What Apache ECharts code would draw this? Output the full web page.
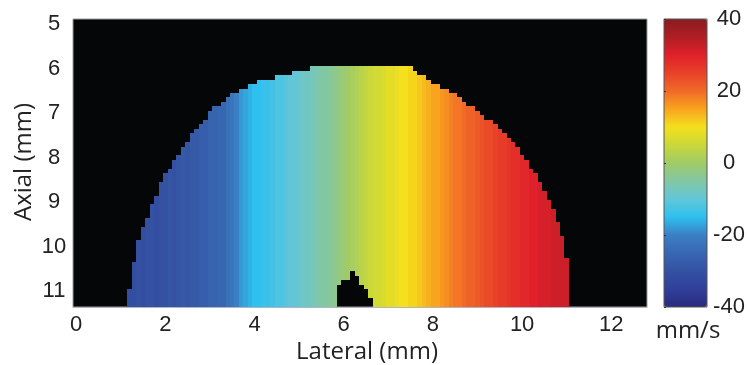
<!DOCTYPE html>
<html><head><meta charset="utf-8">
<script src="https://cdn.jsdelivr.net/npm/echarts@6/dist/echarts.min.js"></script>
<style>html,body{margin:0;padding:0;background:#fff}#c{width:750px;height:365px}</style>
</head><body><div id="c"></div>
<script>
// ---- tick labels ----
const lateralTicks = [0, 2, 4, 6, 8, 10, 12];
const axialTicks = [5, 6, 7, 8, 9, 10, 11];
const colorbarTicks = [-40, -20, 0, 20, 40];

// ---- velocity (mm/s) per lateral column, columns at 1.1 ... 11.1 mm, 0.1 mm apart ----
const lateralStart = 1.1;
const cellSize = 0.1;
const velocityProfile = [
  -31, -31, -31, -30, -31, -30, -30, -31, -30, -30,
  -29, -30, -29, -28, -29, -28, -28, -27, -27, -26,
  -26, -25, -25, -23, -22, -20, -18, -17, -16, -15,
  -15, -14, -14, -13, -12, -12, -11, -10, -10, -9,
  -8, -8, -7, -6, -5, -5, -4, -3, -2, -1,
  0, 1, 2, 3, 4, 5, 6, 6, 7, 8,
  8, 9, 10, 10, 11, 11, 12, 13, 14, 15,
  15, 16, 17, 18, 19, 19, 20, 21, 21, 22,
  23, 24, 24, 25, 26, 26, 27, 28, 28, 29,
  29, 30, 30, 31, 31, 31, 32, 32, 32, 32,
  32
];

// ---- axial rows (mm) and the lateral extent of the imaged region in each row ----
const axialRows = [
  6.0, 6.1, 6.2, 6.3, 6.4, 6.5, 6.6, 6.7, 6.8, 6.9,
  7.0, 7.1, 7.2, 7.3, 7.4, 7.5, 7.6, 7.7, 7.8, 7.9,
  8.0, 8.1, 8.2, 8.3, 8.4, 8.5, 8.6, 8.7, 8.8, 8.9,
  9.0, 9.1, 9.2, 9.3, 9.4, 9.5, 9.6, 9.7, 9.8, 9.9,
  10.0, 10.1, 10.2, 10.3, 10.4, 10.5, 10.6, 10.7, 10.8, 10.9,
  11.0, 11.1, 11.2, 11.3
];
const rowLeft = [
  5.3, 4.85, 4.45, 4.1, 3.85, 3.65, 3.5, 3.35, 3.22, 3.1,
  3.0, 2.92, 2.84, 2.76, 2.68, 2.6, 2.53, 2.46, 2.39, 2.32,
  2.25, 2.18, 2.11, 2.05, 1.99, 1.94, 1.9, 1.85, 1.81, 1.77,
  1.73, 1.69, 1.65, 1.61, 1.57, 1.53, 1.49, 1.46, 1.43, 1.4,
  1.38, 1.36, 1.34, 1.32, 1.3, 1.28, 1.26, 1.24, 1.22, 1.21,
  1.2, 1.19, 1.18, 1.17
];
const rowRight = [
  7.5, 7.65, 7.8, 7.98, 8.16, 8.35, 8.5, 8.63, 8.75, 8.9,
  9.03, 9.17, 9.3, 9.42, 9.52, 9.62, 9.72, 9.82, 9.9, 9.98,
  10.05, 10.12, 10.19, 10.26, 10.32, 10.38, 10.43, 10.48, 10.53, 10.57,
  10.62, 10.66, 10.7, 10.74, 10.78, 10.82, 10.85, 10.88, 10.9, 10.93,
  10.95, 10.97, 10.99, 11.0, 11.01, 11.02, 11.03, 11.04, 11.05, 11.06,
  11.07, 11.08, 11.08, 11.08
];
// ---- the small empty notch at the bottom ----
const holeRows  = [10.6, 10.7, 10.8, 10.9, 11.0, 11.1, 11.2, 11.3];
const holeLeft  = [6.15, 6.15, 6.0, 5.87, 5.87, 5.87, 5.87, 5.87];
const holeRight = [6.25, 6.32, 6.37, 6.42, 6.5, 6.55, 6.6, 6.66];

// ---- colour scale, -40 ... 40 mm/s ----
const colormap = [
  '#2a2a7e', '#30409a', '#3451a2', '#3867b2', '#3b7fc4', '#2ec0ef', '#62c6d8', '#82c7a4',
  '#a0cb66', '#cad83a', '#f4e01c', '#f8a41e', '#f06a28', '#e84228', '#e0202a', '#ae1e24', '#8a1c20'
];

const cells = [];
for (let r = 0; r < axialRows.length; r++) {
  const y = axialRows[r];
  const h = holeRows.indexOf(y);
  for (let c = 0; c < velocityProfile.length; c++) {
    const x = +(lateralStart + c * cellSize).toFixed(1);
    if (x < rowLeft[r] - 1e-6 || x > rowRight[r] + 1e-6) continue;
    if (h >= 0 && x >= holeLeft[h] - 1e-6 && x <= holeRight[h] + 1e-6) continue;
    cells.push([x, y, velocityProfile[c]]);
  }
}

const tickFont = 'Liberation Sans, Arial, sans-serif';
const titleFont = '"Open Sans", sans-serif';
const chart = echarts.init(document.getElementById('c'), null, {renderer: 'canvas'});
chart.setOption({
  animation: false,
  backgroundColor: '#ffffff',
  grid: [
    {left: 73, top: 19, width: 574, height: 288, show: true, backgroundColor: '#050608', borderColor: '#9a9a9a', borderWidth: 1},
    {left: 664, top: 19, width: 43, height: 288, show: true, backgroundColor: 'transparent', borderColor: '#555', borderWidth: 1, z: 10}
  ],
  xAxis: [
    {type: 'value', gridIndex: 0, min: -0.07, max: 12.8, z: 10,
     axisLine: {show: true, lineStyle: {color: '#b0b4c4', width: 1}},
     axisTick: {show: false}, splitLine: {show: false},
     axisLabel: {customValues: lateralTicks, fontSize: 22, fontFamily: tickFont, color: '#222', margin: 7}},
    {type: 'value', gridIndex: 1, min: 0, max: 1, show: false}
  ],
  yAxis: [
    {type: 'value', gridIndex: 0, inverse: true, min: 4.89, max: 11.35,
     axisLine: {show: false}, axisTick: {show: false}, splitLine: {show: false},
     axisLabel: {customValues: axialTicks, fontSize: 22, fontFamily: tickFont, color: '#222', align: 'center', margin: 19}},
    {type: 'value', gridIndex: 1, min: -40, max: 40, position: 'right', z: 10,
     axisLine: {show: false}, splitLine: {show: false},
     axisTick: {show: true, customValues: colorbarTicks, length: 2, inside: false, lineStyle: {color: '#333'}},
     axisLabel: {customValues: colorbarTicks, fontSize: 22, fontFamily: tickFont, color: '#222', align: 'center', margin: 22}}
  ],
  visualMap: {
    type: 'continuous', min: -40, max: 40, dimension: 2, seriesIndex: 0,
    orient: 'vertical', left: 664, top: 19, itemWidth: 43, itemHeight: 288,
    calculable: false, hoverLink: false, text: null, padding: 0,
    inRange: {color: colormap}
  },
  graphic: [
    {type: 'text', x: 367, y: 352, style: {text: 'Lateral (mm)', font: '24px ' + titleFont, fill: '#222', textAlign: 'center', textVerticalAlign: 'middle'}},
    {type: 'text', x: 24, y: 162, rotation: Math.PI / 2, style: {text: 'Axial (mm)', font: '24px ' + titleFont, fill: '#222', textAlign: 'center', textVerticalAlign: 'middle'}},
    {type: 'text', x: 688, y: 331, style: {text: 'mm/s', font: '24px ' + titleFont, fill: '#222', textAlign: 'center', textVerticalAlign: 'middle'}}
  ],
  series: [{
    type: 'custom', coordinateSystem: 'cartesian2d', xAxisIndex: 0, yAxisIndex: 0, clip: true,
    data: cells,
    renderItem: function (params, api) {
      const x = api.value(0), y = api.value(1);
      const p1 = api.coord([x - cellSize / 2, y - cellSize / 2]);
      const p2 = api.coord([x + cellSize / 2, y + cellSize / 2]);
      const x0 = Math.round(Math.min(p1[0], p2[0])), x1 = Math.round(Math.max(p1[0], p2[0]));
      const y0 = Math.round(Math.min(p1[1], p2[1])), y1 = Math.round(Math.max(p1[1], p2[1]));
      return {
        type: 'rect',
        shape: {x: x0, y: y0, width: x1 - x0, height: y1 - y0},
        style: {fill: api.visual('color'), stroke: null}
      };
    }
  }]
});
</script></body></html>
